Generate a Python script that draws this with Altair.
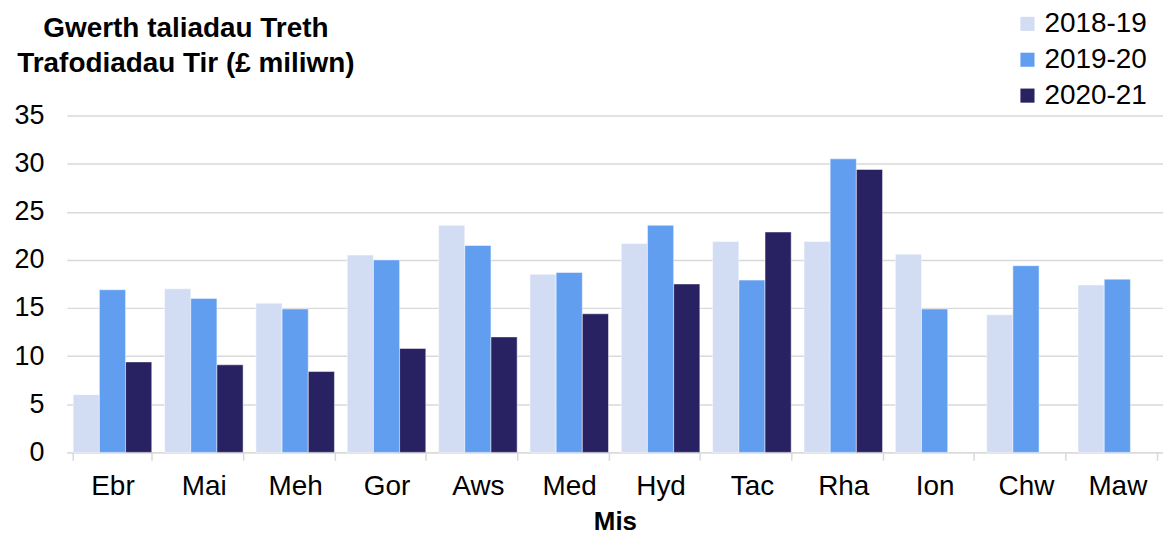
import altair as alt
import pandas as pd

months = ["Ebr", "Mai", "Meh", "Gor", "Aws", "Med", "Hyd", "Tac", "Rha", "Ion", "Chw", "Maw"]
years = ["2018-19", "2019-20", "2020-21"]
v_2018_19 = [6.0, 17.0, 15.5, 20.5, 23.6, 18.5, 21.7, 21.9, 21.9, 20.6, 14.3, 17.4]
v_2019_20 = [16.9, 16.0, 14.9, 20.0, 21.5, 18.7, 23.6, 17.9, 30.5, 14.9, 19.4, 18.0]
v_2020_21 = [9.4, 9.1, 8.4, 10.8, 12.0, 14.4, 17.5, 22.9, 29.4, None, None, None]
colors = ["#D2DCF3", "#629EF0", "#282262"]
y_title = ["Gwerth taliadau Treth", "Trafodiadau Tir (£ miliwn)"]

rows = []
for yr, vals in zip(years, [v_2018_19, v_2019_20, v_2020_21]):
    for m, v in zip(months, vals):
        if v is not None:
            rows.append({"Mis": m, "Blwyddyn": yr, "Gwerth": v})
df = pd.DataFrame(rows)

FONT = "Liberation Sans"

chart = alt.Chart(df).mark_bar(stroke="white", strokeWidth=0.8, strokeOpacity=0.6).encode(
    x=alt.X("Mis:N", sort=months,
            scale=alt.Scale(domain=months, paddingInner=0.14, paddingOuter=0.07),
            axis=alt.Axis(title="Mis", labelAngle=0, tickBand="extent", ticks=True,
                          tickSize=8, tickColor="#d9d9d9", tickWidth=1.5,
                          domainColor="#d9d9d9", domainWidth=1.5,
                          labelPadding=12, labelFontSize=28, labelColor="#000000",
                          titleFontSize=26, titleFontWeight="bold", titlePadding=8,
                          titleColor="#000000", grid=False)),
    xOffset=alt.XOffset("Blwyddyn:N", scale=alt.Scale(domain=years, paddingInner=0, paddingOuter=0)),
    y=alt.Y("Gwerth:Q", scale=alt.Scale(domain=[0, 35], nice=False),
            axis=alt.Axis(title=y_title, titleAngle=0, titleAlign="center",
                          titleBaseline="alphabetic", titleX=119, titleY=-79,
                          titleFontSize=28, titleFontWeight="bold", titleLineHeight=35,
                          titleColor="#000000",
                          values=[0, 5, 10, 15, 20, 25, 30, 35], domain=False,
                          ticks=False, labelPadding=23, labelFontSize=27, labelColor="#000000",
                          gridColor="#d9d9d9", gridWidth=1.5)),
    color=alt.Color("Blwyddyn:N", scale=alt.Scale(domain=years, range=colors),
                    legend=alt.Legend(title=None, orient="none", legendX=950, legendY=-106,
                                      symbolType="square", symbolSize=200, symbolStrokeWidth=0,
                                      labelFontSize=28, labelColor="#000000", rowPadding=8,
                                      labelOffset=3)),
).properties(
    width=1100,
    height=338,
    autosize=alt.AutoSizeParams(type="none"),
    padding={"left": 59, "top": 107, "right": 0, "bottom": 85},
).configure(font=FONT).configure_view(stroke=None).configure_axis(
    labelFont=FONT, titleFont=FONT
).configure_legend(labelFont=FONT)

chart.save("out.html", embed_options={"renderer": "svg", "actions": False})
